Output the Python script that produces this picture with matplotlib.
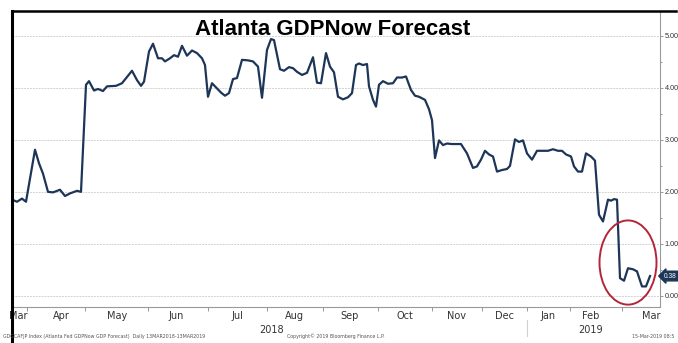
import matplotlib
matplotlib.use("Agg")
import matplotlib.pyplot as plt
from matplotlib.patches import Ellipse
from matplotlib.lines import Line2D

# series (position along the axis, forecast in %)
t = [0, 5, 10, 14, 23, 27, 31, 36, 41, 48, 53, 58, 65, 69,
     74, 77, 82, 86, 91, 95, 104, 110, 115, 120, 125, 129, 132, 137,
     141, 146, 150, 153, 158, 162, 166, 170, 175, 180, 185, 190, 193, 196,
     200, 204, 209, 213, 217, 221, 225, 230, 236, 241, 246, 250, 255, 259,
     262, 268, 272, 277, 281, 285, 290, 295, 301, 305, 309, 314, 318, 322,
     326, 331, 336, 340, 344, 347, 351, 355, 357, 361, 364, 367, 371, 376,
     381, 385, 390, 394, 399, 403, 407, 413, 417, 420, 423, 427, 431, 435,
     440, 449, 455, 461, 465, 469, 473, 477, 481, 485, 490, 495, 498, 503,
     507, 511, 515, 520, 525, 536, 541, 546, 550, 554, 559, 562, 566, 570,
     574, 579, 583, 587, 591, 596, 599, 602, 605, 608, 612, 616, 621, 625,
     630, 634, 638]
gdp = [1.85, 1.81, 1.87, 1.81, 2.81, 2.55, 2.35, 2.00, 1.99, 2.04, 1.92, 1.97, 2.02, 2.00,
       4.06, 4.13, 3.95, 3.98, 3.94, 4.03, 4.04, 4.09, 4.21, 4.33, 4.15, 4.04, 4.12, 4.70,
       4.85, 4.57, 4.57, 4.51, 4.57, 4.63, 4.60, 4.81, 4.62, 4.72, 4.67, 4.57, 4.44, 3.83,
       4.09, 4.01, 3.91, 3.85, 3.90, 4.17, 4.19, 4.54, 4.53, 4.51, 4.41, 3.81, 4.73, 4.94,
       4.92, 4.36, 4.33, 4.40, 4.38, 4.31, 4.25, 4.29, 4.59, 4.10, 4.09, 4.67, 4.41, 4.30,
       3.83, 3.78, 3.82, 3.90, 4.44, 4.47, 4.44, 4.46, 4.03, 3.77, 3.64, 4.06, 4.13, 4.08,
       4.09, 4.20, 4.20, 4.22, 3.96, 3.85, 3.83, 3.77, 3.59, 3.38, 2.65, 2.99, 2.90, 2.93,
       2.92, 2.92, 2.74, 2.46, 2.49, 2.62, 2.79, 2.72, 2.68, 2.39, 2.42, 2.44, 2.50, 3.01,
       2.96, 2.99, 2.74, 2.62, 2.79, 2.79, 2.82, 2.79, 2.79, 2.72, 2.68, 2.49, 2.39, 2.39,
       2.74, 2.68, 2.60, 1.56, 1.43, 1.85, 1.83, 1.86, 1.85, 0.34, 0.29, 0.53, 0.51, 0.47,
       0.18, 0.18, 0.38]

months = ["Mar", "Apr", "May", "Jun", "Jul", "Aug", "Sep", "Oct", "Nov", "Dec", "Jan", "Feb", "Mar"]
month_pos = [6, 49, 105, 164, 225, 282, 338, 393, 445, 493, 536, 579, 639]
month_edges = [15, 73, 136, 196, 255, 311, 366, 420, 470, 515, 558, 610]
years = ["2018", "2019"]
year_pos = [260, 579]
yticks = [0, 1, 2, 3, 4, 5]

navy = "#1d3557"

fig = plt.figure(figsize=(6.78, 3.43), dpi=100)
ax = fig.add_axes([12 / 678, 1 - 306.7 / 343, 648 / 678, 295.7 / 343])

ax.plot(t, gdp, color=navy, lw=1.6, zorder=3)
ax.set_xlim(0, 648)
ax.set_ylim(-0.21, 5.48)

ax.yaxis.tick_right()
ax.set_yticks(yticks)
ax.set_yticks([y + 0.5 for y in yticks[:-1]], minor=True)
ax.set_yticklabels(["%.2f" % y for y in yticks], family="Liberation Sans")
ax.tick_params(axis="y", which="major", length=2.5, width=0.6, color="#888888",
               labelsize=5.2, labelcolor="#333333", pad=0.8)
ax.tick_params(axis="y", which="minor", length=1.5, width=0.6, color="#888888")
ax.grid(axis="y", color="#d2d2d2", lw=0.7, ls=(0, (2, 1)))

ax.set_xticks(month_edges)
ax.set_xticklabels([])
ax.set_xticks(month_pos, minor=True)
ax.set_xticklabels(months, minor=True)
ax.tick_params(axis="x", which="major", length=3, width=0.6, color="#888888", direction="out")
ax.tick_params(axis="x", which="minor", length=0, labelsize=7, labelcolor="#333333", pad=3)
for yr, p in zip(years, year_pos):
    ax.text(p, -0.65, yr, ha="center", va="center", fontsize=7, color="#333333")

for s in ["left", "top"]:
    ax.spines[s].set_visible(False)
for s in ["right", "bottom"]:
    ax.spines[s].set_color("#9a9a9a")
    ax.spines[s].set_linewidth(0.8)

# screen frame lines
fig.add_artist(Line2D([12 / 678, 12 / 678], [0, 1 - 11 / 343], color="black", lw=2.2))
fig.add_artist(Line2D([12 / 678, 676 / 678], [1 - 11 / 343, 1 - 11 / 343], color="black", lw=1.8))
fig.add_artist(Line2D([527 / 678, 527 / 678], [1 - 320 / 343, 1 - 336 / 343], color="#d0d0d0", lw=0.8))

# highlight circle
ax.add_patch(Ellipse((616, 0.64), 57, 1.62, fill=False, ec="#b3263a", lw=1.4, zorder=4))

# last value tag
ax.text(1.006, 0.38, "0.38", transform=ax.get_yaxis_transform(), ha="left", va="center",
        fontsize=4.8, color="white", clip_on=False, family="Liberation Sans",
        bbox=dict(boxstyle="larrow,pad=0.2", fc=navy, ec=navy))

fig.text(0.49, 0.913, "Atlanta GDPNow Forecast", ha="center", va="center",
         fontsize=16, fontweight="bold", color="black", family="Liberation Sans")

fig.text(0.004, 0.012, "GDGCAFJP Index (Atlanta Fed GDPNow GDP Forecast)  Daily 13MAR2018-13MAR2019",
         ha="left", va="bottom", fontsize=3.4, color="#555555")
fig.text(0.495, 0.012, "Copyright\u00a9 2019 Bloomberg Finance L.P.", ha="center", va="bottom",
         fontsize=3.4, color="#555555")
fig.text(0.995, 0.012, "15-Mar-2019 08:5", ha="right", va="bottom", fontsize=3.4, color="#555555")

fig.savefig("out.png", dpi=100, facecolor="white")
